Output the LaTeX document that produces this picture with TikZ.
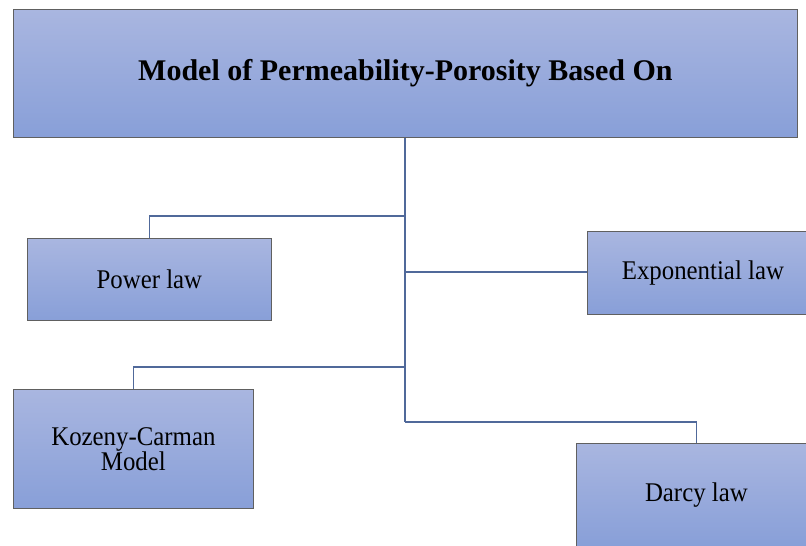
\documentclass[tikz,border=0pt]{standalone}
\usepackage{fontspec}
\setmainfont{Liberation Serif}
\newfontfamily\narrowserif{Liberation Serif}[FakeStretch=0.92]
\begin{document}
\begin{tikzpicture}[x=1pt,y=-1pt,
  box/.style={draw=gray!75!black,line width=0.8pt,top color=boxtop,bottom color=boxbot,
    anchor=north west,inner sep=0pt,align=center,font=\narrowserif\fontsize{27}{25}\selectfont},
  link/.style={draw=linec,line width=1.4pt}]
\definecolor{boxtop}{HTML}{A9B6E0}
\definecolor{boxbot}{HTML}{889FD8}
\definecolor{linec}{HTML}{50699A}
\useasboundingbox (0,0) rectangle (806,546);
\begin{scope}
\clip (0,0) rectangle (806,546);
\node[box,minimum width=784pt,minimum height=128pt,font=\fontsize{30}{32}\selectfont\bfseries] (top) at (13,9) {Model of Permeability-Porosity Based On};
\node[box,minimum width=244pt,minimum height=82pt] (pow) at (27,238) {Power law};
\node[box,minimum width=231pt,minimum height=83pt] (exp) at (587,231) {Exponential law};
\node[box,minimum width=240pt,minimum height=119pt] (koz) at (13,389) {Kozeny-Carman\\Model};
\node[box,minimum width=240pt,minimum height=103pt] (dar) at (576,443) {Darcy law};
\end{scope}
\coordinate (c1) at (405,216);
\coordinate (c2) at (405,272);
\coordinate (c3) at (405,367);
\coordinate (c4) at (405,422);
\draw[link] (top.south -| c1) -- (c4);
\draw[link] (c1) -| (pow.north);
\draw[link] (c2) -- (exp.west |- c2);
\draw[link] (c3) -| (koz.north);
\draw[link] (c4) -| (dar.north);
\end{tikzpicture}
\end{document}
